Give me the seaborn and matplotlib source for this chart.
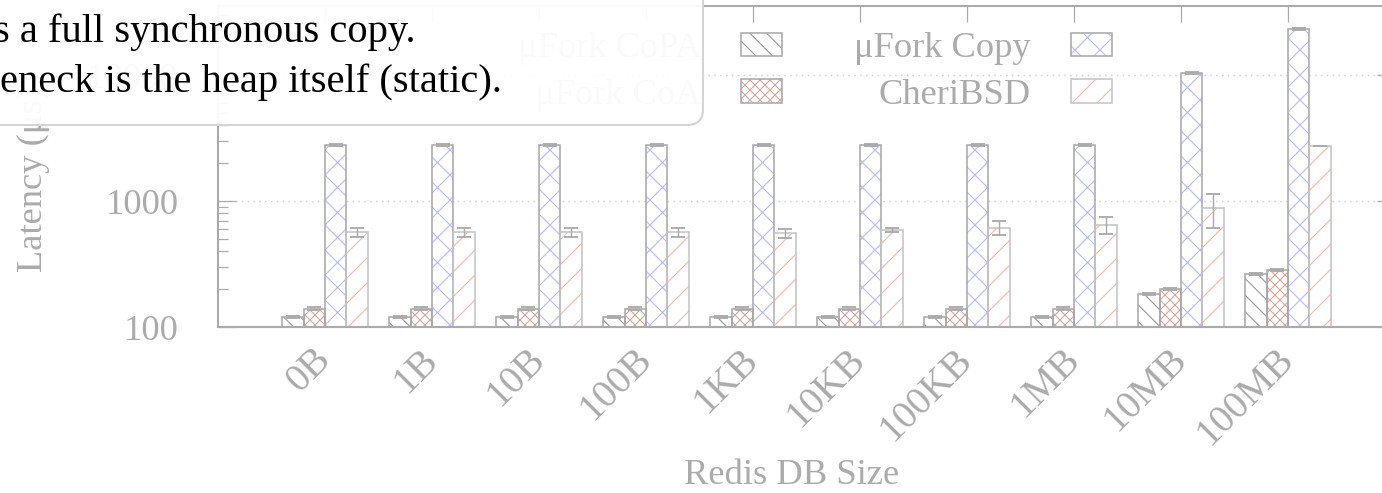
import numpy as np
import pandas as pd
import matplotlib
matplotlib.use("Agg")
import matplotlib.pyplot as plt
import matplotlib.transforms as mtransforms
import seaborn as sns
from matplotlib.patches import Rectangle, Patch, FancyBboxPatch
from matplotlib.legend_handler import HandlerTuple
from matplotlib.ticker import FixedLocator, FixedFormatter, LogLocator, NullFormatter

# ---------------- data ----------------
categories = ['0B', '1B', '10B', '100B', '1KB', '10KB', '100KB', '1MB', '10MB', '100MB']
series = ['μFork CoPA', 'μFork CoA', 'μFork Copy', 'CheriBSD']

copa = [120, 120, 120, 120, 120, 120, 120, 120, 183, 264]
copa_err = [3, 3, 3, 3, 3, 3, 3, 3, 4, 5]
coa = [140, 140, 140, 140, 140, 140, 140, 140, 200, 283]
coa_err = [4, 4, 4, 4, 4, 4, 4, 4, 5, 6]
ufcopy = [2780, 2780, 2780, 2780, 2780, 2780, 2780, 2780, 10400, 23200]
ufcopy_err = [50, 50, 50, 50, 50, 50, 50, 50, 200, 300]
cheri = [565, 565, 565, 565, 555, 590, 615, 645, 875, 2735]
cheri_err = [50, 50, 50, 50, 45, 25, 75, 100, 260, 20]

ytick_values = [100, 1000, 10000]
ytick_labels = ['100', '1000', '10000']
xlabel = 'Redis DB Size'
ylabel = 'Latency (μs)'
note_lines = ['s a full synchronous copy.', 'eneck is the heap itself (static).']

# ---------------- style ----------------
W, H, DPI = 1382, 493, 150
TEXT = '#ababab'
EDGE = '#ababab'
hatch_colors = ['#9a9a9a', '#d2a79d', '#b9b9ff', '#f3b9a4']
outline_colors = ['#a8a8a8', '#a8a8a8', '#a8a8a8', '#c4c4c4']
hatches = ['\\\\\\', 'xxxxx', 'xx', '//']
FS = 17.5
XFS = 19

sns.set_theme(style='ticks')
plt.rcParams['font.family'] = ['Liberation Serif', 'DejaVu Serif']
plt.rcParams['hatch.linewidth'] = 0.55
plt.rcParams['axes.edgecolor'] = EDGE

fig = plt.figure(figsize=(W / DPI, H / DPI), dpi=DPI)
fig.patch.set_facecolor('white')
ax = fig.add_axes([218 / W, 166 / H, (1395 - 218) / W, (487 - 166) / H])

df = pd.DataFrame({
    'size': np.tile(categories, len(series)),
    'impl': np.repeat(series, len(categories)),
    'lat': np.concatenate([copa, coa, ufcopy, cheri]),
})
sns.barplot(data=df, x='size', y='lat', hue='impl', order=categories,
            hue_order=series, errorbar=None, ax=ax, legend=False,
            width=0.8, palette=['white'] * 4, saturation=1)
ax.set_yscale('log')

errs = [copa_err, coa_err, ufcopy_err, cheri_err]
vals = [copa, coa, ufcopy, cheri]
bar_containers = list(ax.containers)
for i, cont in enumerate(bar_containers):
    xs = []
    for p in cont.patches:
        p.set_facecolor('white')
        p.set_hatch(hatches[i])
        p.set_edgecolor(hatch_colors[i])
        p.set_linewidth(0)
        ax.add_patch(Rectangle((p.get_x(), p.get_y()), p.get_width(), p.get_height(),
                               fill=False, edgecolor=outline_colors[i], lw=0.75,
                               zorder=p.get_zorder() + 0.1))
        xs.append(p.get_x() + p.get_width() / 2)
    ax.errorbar(xs, vals[i], yerr=errs[i], fmt='none', ecolor=EDGE,
                elinewidth=0.7, capsize=3.2, capthick=0.9, zorder=4)

ax.set_xlim(-1, 10)
ax.set_ylim(100, 10 ** 4.548)

ax.yaxis.set_major_locator(FixedLocator(ytick_values))
ax.yaxis.set_major_formatter(FixedFormatter(ytick_labels))
ax.yaxis.set_minor_locator(LogLocator(base=10, subs=np.arange(2, 10)))
ax.yaxis.set_minor_formatter(NullFormatter())

ax.set_xticks(range(len(categories)))
ax.set_xticklabels(categories, rotation=45, ha='right', va='center',
                   rotation_mode='anchor')
shift = mtransforms.ScaledTranslation(7 / DPI, -3 / DPI, fig.dpi_scale_trans)
for lbl in ax.get_xticklabels():
    lbl.set_transform(lbl.get_transform() + shift)

for s in ax.spines.values():
    s.set_color(EDGE)
    s.set_linewidth(1.0)

ax.tick_params(axis='x', which='both', direction='in', top=True, bottom=True,
               length=7.7, width=0.6, color=EDGE, labelcolor=TEXT,
               labelsize=XFS, pad=13)
ax.tick_params(axis='y', which='major', direction='in', left=True, right=True,
               length=8.6, width=0.6, color=EDGE, labelcolor=TEXT,
               labelsize=FS, pad=19)
ax.tick_params(axis='y', which='minor', direction='in', left=True, right=True,
               length=4.8, width=0.6, color=EDGE)

ax.yaxis.grid(True, which='major', linestyle=(0, (1, 3)), color='#cfcfcf', lw=0.7)
ax.xaxis.grid(False)
ax.set_axisbelow(True)

ax.set_xlabel(xlabel, color=TEXT, fontsize=FS)
ax.xaxis.label.set_va('center')
ax.xaxis.set_label_coords((792 - 218) / 1177, (18 - 166) / 321)
ax.set_ylabel(ylabel, color=TEXT, fontsize=FS)
ax.yaxis.label.set_va('center')
ax.yaxis.set_label_coords((33 - 218) / 1177, 0.46)

# legend
handles = []
for i in range(4):
    hp = Patch(facecolor='white', edgecolor=hatch_colors[i], hatch=hatches[i], lw=0)
    op = Patch(fill=False, edgecolor=outline_colors[i], lw=0.75)
    handles.append((hp, op))
FSPX = FS * DPI / 72
leg = ax.legend(handles, series, ncol=2, markerfirst=False, frameon=False,
                loc='upper right',
                bbox_to_anchor=(1112 / W, 1 - 32 / H), bbox_transform=fig.transFigure,
                borderpad=0, borderaxespad=0, fontsize=FS, labelcolor=TEXT,
                handlelength=41 / FSPX, handleheight=22 / FSPX,
                handletextpad=1.1, columnspacing=72 / FSPX, labelspacing=0.38,
                handler_map={tuple: HandlerTuple(ndivide=1, pad=0)})

# callout box overlay
box = FancyBboxPatch((-40, H - 125), 703 + 40, 200,
                     boxstyle='round,pad=0,rounding_size=16',
                     transform=None, facecolor=(1, 1, 1, 0.95),
                     edgecolor='#d4d4d4', lw=1.0, zorder=10)
fig.patches.append(box)
fig.text(-6 / W, 1 - 42 / H, note_lines[0], color='black', fontsize=19.5,
         ha='left', va='baseline', zorder=11)
fig.text(0 / W, 1 - 92 / H, note_lines[1], color='black', fontsize=19.5,
         ha='left', va='baseline', zorder=11)

fig.savefig('out.png', dpi=DPI, facecolor='white')
